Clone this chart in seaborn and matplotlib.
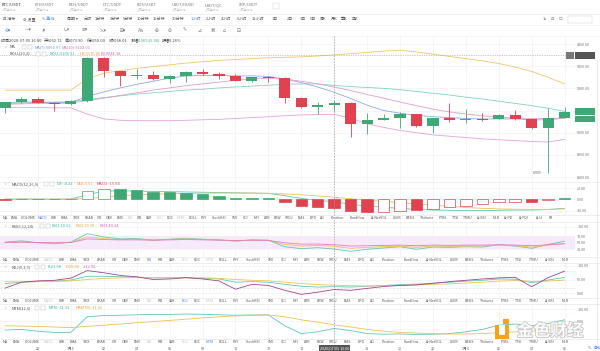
import matplotlib
matplotlib.use('Agg')
import numpy as np
import pandas as pd
import matplotlib.pyplot as plt
import matplotlib.transforms as mtransforms
import matplotlib.patheffects as pe
from matplotlib.patches import Rectangle
from matplotlib.lines import Line2D
import seaborn as sns

# ---- values: BTC/USDT, 1h candles ----
candle_idx = list(range(35))
opens = [9056, 9069, 9075, 9068, 9065, 9071, 9169, 9139, 9128, 9131, 9120, 9128, 9136, 9132, 9127, 9117, 9126, 9124,
         9078, 9058, 9062.72, 9068, 9019, 9029, 9034, 9042, 9014, 9033, 9028, 9031, 9030, 9040, 9030, 9011, 9033]
closes = [9069, 9075, 9068, 9065, 9071, 9169, 9139, 9128, 9131, 9120, 9128, 9136, 9132, 9127, 9117, 9125, 9124, 9078,
          9057, 9062, 9068.01, 9019, 9028, 9034, 9042, 9014, 9033, 9028, 9031, 9029, 9040, 9030, 9011, 9033, 9047]
highs = [9070, 9081, 9080, 9069, 9073, 9170, 9170, 9140, 9144, 9138, 9130, 9140, 9143, 9136, 9132, 9126, 9128, 9125,
         9080, 9069, 9073.90, 9069, 9045, 9042, 9047, 9043, 9034, 9066, 9053, 9045, 9042, 9051, 9031, 9055, 9058]
lows = [9045, 9068, 9067, 9050, 9063, 9070, 9125, 9106, 9121, 9118, 9113, 9114, 9129, 9120, 9116, 9114, 9115, 9068,
        9055, 9042, 9050.00, 8990, 8996, 9028, 9011, 9012, 9000, 9023, 9022, 9026, 9030, 9029, 9009, 8909, 9032]

ma7 = [9066, 9067, 9068, 9068, 9068, 9082, 9092, 9101, 9109, 9116, 9123, 9128, 9129, 9129, 9128, 9128, 9127, 9121,
       9113, 9103, 9091, 9077, 9062, 9050, 9044, 9039, 9036, 9034, 9032, 9031, 9031, 9031, 9029, 9029, 9033]
ma10 = [9064, 9065, 9066, 9066, 9067, 9072, 9078, 9084, 9090, 9096, 9101, 9106, 9110, 9114, 9118, 9121, 9123, 9121,
        9116, 9110, 9103, 9095, 9086, 9078, 9069, 9061, 9053, 9047, 9042, 9038, 9035, 9033, 9032, 9032, 9033]
boll_mid = [9068, 9069, 9069, 9069, 9070, 9075, 9079, 9083, 9087, 9090, 9093, 9096, 9098, 9101, 9103, 9105, 9107, 9109,
            9110, 9110, 9106.5, 9104, 9102, 9100, 9097, 9093, 9089, 9085, 9080, 9076, 9071, 9066, 9061, 9055, 9048]
boll_ub = [9096, 9096, 9096, 9096, 9096, 9122, 9134, 9140, 9145, 9149, 9153, 9157, 9160, 9163, 9165, 9167, 9169, 9170,
           9171, 9173, 9175.5, 9178, 9181, 9184, 9186, 9182, 9177, 9172, 9167, 9162, 9156, 9148, 9138, 9125, 9110]
boll_lb = [9057, 9057, 9057, 9056, 9056, 9042, 9031, 9028, 9027, 9027, 9027, 9028, 9029, 9030, 9032, 9034, 9036, 9038,
           9040, 9041, 9041.2, 9033, 9020, 9012, 9005, 9000, 8995, 8992, 8989, 8986, 8984, 8982, 8980, 8979, 8985]

macd_hist = [-1.2, 0.8, 0.8, 0.6, 0.7, 14.9, 18.9, 17.5, 17.0, 13.7, 12.6, 11.4, 8.6, 6.3, 2.9, 1.7, 1.7, -5.1,
             -12.6, -13.0, -15.64, -21.0, -22.9, -22.0, -20.0, -19.0, -17.0, -13.7, -11.0, -8.0, -5.0, -4.0, -5.0, -1.5, 2.0]
macd_hollow = [0, 1, 1, 1, 1, 1, 1, 0, 0, 0, 0, 0, 0, 0, 0, 0, 0, 0,
               0, 0, 0, 0, 0, 1, 1, 0, 1, 1, 1, 1, 1, 1, 0, 1, 0]
dif = [0.4, 0.5, 0.4, 0.3, 0.4, 8.0, 14.5, 15.0, 14.5, 14.0, 13.5, 13.0, 12.5, 12.0, 11.5, 11.0, 10.5, 6.5,
       1.5, -2.0, -4.22, -9.0, -12.0, -14.0, -16.0, -18.0, -19.0, -19.5, -20.0, -20.0, -19.5, -19.0, -19.0, -18.0, -16.0]
dea = [0.3, 0.3, 0.3, 0.3, 0.3, 1.5, 4.0, 6.2, 7.8, 9.0, 9.8, 10.4, 10.8, 11.0, 11.0, 11.0, 10.5, 9.5,
       8.0, 6.0, 3.61, 1.0, -1.5, -3.5, -6.0, -8.0, -10.5, -12.5, -14.5, -16.0, -17.0, -17.5, -18.0, -18.0, -17.0]

rsi1 = [52, 56, 50, 47, 52, 78, 68, 62, 63, 58, 61, 64, 61, 59, 55, 59, 58, 38,
        32, 35, 30.62, 24, 30, 34, 38, 30, 37, 36, 38, 37, 44, 40, 33, 45, 55]
rsi2 = [50, 52, 50, 49, 51, 68, 63, 60, 61, 58, 60, 62, 60, 59, 56, 58, 58, 45,
        40, 42, 39.39, 33, 36, 38, 40, 36, 40, 39, 40, 40, 43, 41, 37, 43, 48]
rsi3 = [51, 52, 51, 50, 51, 62, 60, 59, 59, 58, 59, 60, 59, 58, 57, 58, 57, 50,
        46, 46, 44.24, 40, 41, 42, 43, 41, 43, 42, 43, 43, 44, 43, 41, 44, 47]

kdj_k = [35, 40, 42, 44, 48, 62, 62, 60, 59, 56, 56, 57, 55, 52, 40, 42, 40, 32,
         25, 22, 23.68, 22, 25, 28, 31, 33, 36, 40, 44, 47, 52, 51, 38, 48, 58]
kdj_d = [42, 41, 42, 43, 45, 50, 54, 56, 57, 56, 56, 56, 56, 54, 50, 47, 45, 40,
         35, 31, 29.06, 27, 26, 27, 28, 30, 32, 34, 37, 40, 44, 46, 43, 44, 48]
kdj_j = [18, 40, 45, 47, 55, 83, 75, 65, 60, 50, 52, 57, 52, 45, 14, 32, 28, 10,
         -5, 3, 12.92, 10, 17, 24, 28, 30, 36, 42, 47, 52, 56, 58, 23, 57, 81]

mtm = [-75, -70, -85, -95, -95, 36, 45, 48, 52, 55, 55, 58, 56, 52, 48, 50, 50, -40,
       -105, -90, -61.92, -80, -105, -110, -108, -112, -110, -105, -90, -70, -35, -25, -40, -20, 10]
mamtm = [-40, -42, -45, -50, -55, -45, -35, -25, -15, -5, 5, 15, 25, 35, 42, 48, 50, 35,
         10, -10, -31.92, -50, -70, -85, -95, -100, -105, -108, -108, -105, -98, -90, -85, -75, -55]

time_ticks = [2, 4, 6, 8, 10, 12, 14, 16, 18, 20, 22, 24, 26, 28, 30, 32, 34]
# the 16:00 label sits under the crosshair time box, so it stays blank
time_labels = ['22', '7月5', '02', '04', '06', '08', '10', '12', '14', '', '18', '20', '22', '7月6', '02', '04', '06']
cross_idx = 20

tabs_top = ['BTC/USDT', 'ETH/USDT', 'BCH/USDT', 'LTC/USDT', 'EOS/USDT', 'USDT/HUSD', 'USDT/QC', 'XRP/USDT']
periods = ['分时', '1分钟', '3分钟', '5分钟', '10分钟', '15分钟', '30分钟', '1小时', '2小时', '4小时', '6小时',
           '12小时', '1日', '2日', '3日', '5日', '周K', '月K', '季K', '年K']
indicators = ['MA', 'EMA', 'VOLUME', 'MACD', 'DMI', 'DMA', 'TRIX', 'BRAR', 'VR', 'OBV', 'EMV', 'RSI', 'WR', 'SAR',
              'KDJ', 'ROC', 'MTM', 'BOLL', 'PSY', 'StochRSI', 'SMI', 'CCI', 'MFI', 'ATR', 'BBW', 'SKDJ', 'BIAS', 'DPO',
              'AO', 'Position', 'Fundflow', 'AI-NetVOL', 'LSUR', 'BASIS', 'TVolume', 'FTBS', 'TTSI', 'TTMU', 'AI-BSI',
              'MLR']
indicators_extra = ['AI-PD', 'AI-FDI', 'AI-LI', 'FR']

GREEN = '#3fa874'
RED = '#e0424f'
TEAL = '#5cc9b5'
YELLOW = '#f1c150'
PINK = '#e47cc6'
BLUE_TXT = '#3d7fe0'

sns.set_theme(style='white')
plt.rcParams['font.family'] = ['Noto Sans CJK SC', 'DejaVu Sans']
plt.rcParams['axes.unicode_minus'] = False

W, H = 600, 351
fig = plt.figure(figsize=(6, 3.51), dpi=100)
fig.patch.set_facecolor('white')


def rect(x0, y0, x1, y1):
    return [x0 / W, 1 - y1 / H, (x1 - x0) / W, (y1 - y0) / H]


def put(x, y, s, size=2.9, color='#555555', ha='left', **kw):
    return fig.text(x / W, 1 - y / H, s, fontsize=size, color=color, ha=ha, va='center', **kw)


def pbox(x0, y0, x1, y1, fc, ec='none', lw=0.4, z=5):
    fig.add_artist(Rectangle((x0 / W, 1 - y1 / H), (x1 - x0) / W, (y1 - y0) / H, transform=fig.transFigure,
                             facecolor=fc, edgecolor=ec, linewidth=lw, zorder=z))


def hline(y, x0=0, x1=600, color='#e8e8e8', lw=0.5):
    fig.add_artist(Line2D([x0 / W, x1 / W], [1 - y / H] * 2, transform=fig.transFigure, color=color, lw=lw))


def panel(y0, y1, ylim, ticks):
    ax = fig.add_axes(rect(0, y0, 575, y1))
    ax.set_xlim(-0.304, 34.63)
    ax.set_ylim(*ylim)
    ax.set_xticks(time_ticks)
    ax.set_xticklabels([])
    ax.set_yticks(ticks)
    ax.set_yticklabels([f'{t:.2f}' for t in ticks])
    ax.yaxis.tick_right()
    ax.tick_params(axis='both', length=0, labelsize=2.7, labelcolor='#777777', pad=1.6)
    ax.grid(True, color='#f1f1f1', lw=0.5)
    for s in ax.spines.values():
        s.set_visible(False)
    ax.set_facecolor('none')
    return ax


def line(ax, y, color, lw=0.6):
    sns.lineplot(x=candle_idx, y=y, ax=ax, color=color, lw=lw, legend=False)
    ax.set_xlabel('')
    ax.set_ylabel('')


def legend_row(y, x_name, name, icons_x, parts, chevron=True):
    if chevron:
        put(4, y, '∨', size=2.4, color='#999999')
    put(x_name, y, name, color='#555555')
    for ix in icons_x:
        pbox(ix, y - 2, ix + 4, y + 2, 'white', ec='#bbbbbb', lw=0.3)
    for px, s, c in parts:
        put(px, y, s, color=c)


def tab_row(y, items, x0, x1, active, greyed, char_w=2.0):
    lens = np.array([len(s) for s in items], dtype=float)
    gap = (x1 - x0 - char_w * lens.sum()) / (len(items) - 1)
    pos = x0
    for s, l in zip(items, lens):
        c = BLUE_TXT if s == active else ('#c2c2c2' if s in greyed else '#555555')
        put(pos + l * char_w / 2, y, s, size=2.5, color=c, ha='center')
        pos += l * char_w + gap


# ---- top tabs / toolbars ----
tab_x = [2, 35, 69, 103, 137, 172, 205, 239]
for i, (tx, name) in enumerate(zip(tab_x, tabs_top)):
    put(tx, 5, name, size=2.9, color='#333333' if i == 0 else '#777777')
    put(tx, 10, '火币全球站', size=2.1, color='#bbbbbb')
pbox(273, 3, 279, 9, 'white', ec='#cccccc', lw=0.3)
put(276, 6, '▾', size=2.2, color='#888888', ha='center', family='DejaVu Sans')
hline(13.5)

put(3, 19, '⊟ 指标', size=2.9, color='#555555')
put(23, 19, '⚙ 设置', size=2.9, color='#555555')
put(42, 19, '✎ 画线', size=2.9, color=BLUE_TXT)
put(67, 19, '周期 ▾', size=2.9, color='#555555')
per_x = [84, 95, 110, 123, 137, 153, 172, 191, 206, 221, 237, 252, 272, 287, 300, 310, 320, 331, 341, 352]
for px, s in zip(per_x, periods):
    put(px, 19, s, size=2.9, color=BLUE_TXT if s == '1小时' else '#555555')
put(543, 19, '1s', size=2.9, color='#666666')
put(551, 19, '⊡', size=3.0, color='#777777', family='DejaVu Sans')
put(559, 19, '☐', size=3.0, color='#777777', family='DejaVu Sans')
pbox(568, 16, 592, 22.5, 'white', ec='#cccccc', lw=0.3)
put(570, 19.2, '单窗口 ▾', size=2.7, color='#555555')
hline(24.5, color='#efefef')

tool_x = [5, 25, 43, 63, 82, 100, 120, 138, 155, 168, 183, 197, 210, 223, 237]
tool_s = ['✣▾', '—▾', '⁄▾', '∟▾', '≡▾', '⋋▾', '⊞▾', 'Aa', '⊕', '⊘', '✎', '⊿', '⌘', '⌂', '⊟']
for i, (tx, s) in enumerate(zip(tool_x, tool_s)):
    put(tx, 30, s, size=3.3, color=BLUE_TXT if i == 0 else '#777777', family='DejaVu Sans')
hline(35.5, color='#efefef')

# ---- main candle chart ----
ax = panel(37, 181, (8891.0, 9215.8), [8900, 8950, 9000, 9050, 9100, 9150, 9200])
df = pd.DataFrame({'i': candle_idx, 'open': opens, 'close': closes, 'high': highs, 'low': lows})
up = df['close'] >= df['open']
cols = np.where(up, GREEN, RED)
ax.vlines(df['i'], df['low'], df['high'], colors=cols, lw=0.6, zorder=3)
body = (df['close'] - df['open']).abs().clip(lower=1.5)
ax.bar(df['i'], body, bottom=np.minimum(df['open'], df['close']), width=0.68, color=cols, linewidth=0, zorder=4)
line(ax, boll_ub, '#f2c46c')
line(ax, boll_mid, '#80d3c3')
line(ax, boll_lb, '#e6a2da')
line(ax, ma7, '#8fa8e8')
line(ax, ma10, '#e79ccb')
ax.axhline(9175.23, color='#999999', lw=0.5, ls=(0, (1, 1.5)))
ax.annotate('8909 ‐', xy=(33, lows[33]), xytext=(-2, 0), textcoords='offset points',
            ha='right', va='center', fontsize=2.6, color='#666666')

put(1, 40.7, '时间2020-07-05 16:00', color='#444444')
put(43.5, 40.7, '开9062.72', color='#444444')
put(65, 40.7, '高9073.90', color='#444444')
put(87, 40.7, '低9050.00', color='#444444')
put(109, 40.7, '收9068.01', color='#444444')
put(131, 40.7, '涨幅', color='#444444')
put(138, 40.7, '0.06%(5.30)', color=GREEN)
put(162, 40.7, '振幅0.26%', color='#444444')
legend_row(47.3, 10, 'MA', [22, 28], [(35, 'MA(7):9090.97', '#6f8fe6'), (62, 'MA(10):9102.01', '#dd6fb8')])
legend_row(53.6, 10, 'BOLL(20,2)', [36, 42], [(50, 'BOLL:9106.51', '#36bba4'), (80, 'UB:9175.46', '#e9a53a'),
                                            (101, 'LB:9041.18', '#d862b8')], chevron=False)

# price boxes on the right edge
pbox(566, 51.5, 573.5, 58.5, '#777777')
put(569.7, 55, '+', size=3.2, color='white', ha='center')
pbox(575, 51.5, 595, 58.5, '#555555')
put(585, 55, '9175.23', size=2.7, color='white', ha='center')
pbox(575, 107.5, 595, 114.5, GREEN)
put(585, 111, '9048.19', size=2.7, color='white', ha='center')
pbox(575, 116, 595, 122.5, GREEN)
put(585, 119.3, '51:48', size=2.7, color='white', ha='center')
hline(181.5)

# ---- MACD ----
ax = panel(181, 215, (-27.8, 32.4), [-20, 0, 20])
hcol = np.where(np.array(macd_hist) >= 0, GREEN, RED)
face = ['white' if h else c for h, c in zip(macd_hollow, hcol)]
ax.bar(candle_idx, macd_hist, width=0.7, color=face, edgecolor=hcol, linewidth=0.5, zorder=3)
line(ax, dif, TEAL)
line(ax, dea, YELLOW)
legend_row(184, 12, 'MACD(12,26,9)', [44, 50], [(57, 'DIF:-4.22', '#36bba4'), (77, 'DEA:3.61', '#e9a53a'),
                                               (97, 'MACD:-15.64', RED)])
hline(214.5)
tab_row(218, indicators + indicators_extra, 3, 553, 'MACD', ['RSI', 'KDJ', 'MTM'])
hline(221.5)

# ---- RSI ----
ax = panel(221, 257, (6.4, 116.9), [30, 50, 70, 100])
ax.axhspan(30, 70, color='#f5e9fb', zorder=0, lw=0)
line(ax, rsi1, TEAL)
line(ax, rsi2, YELLOW)
line(ax, rsi3, PINK)
legend_row(226, 12, 'RSI(6,12,24)', [40, 46], [(52, 'RSI1:30.62', '#36bba4'), (76, 'RSI2:39.39', '#e9a53a'),
                                              (100, 'RSI3:44.24', '#d862b8')])
hline(256.5)
tab_row(260, indicators, 3, 568, 'RSI', ['MACD', 'KDJ', 'MTM'])
hline(263)

# ---- KDJ ----
ax = panel(263, 298, (-18.5, 111.1), [0, 50, 100])
ax.axhline(80, color='#dddddd', lw=0.5, ls=(0, (3, 2)))
ax.axhline(20, color='#dddddd', lw=0.5, ls=(0, (3, 2)))
line(ax, kdj_k, TEAL)
line(ax, kdj_d, YELLOW)
line(ax, kdj_j, '#a3458f')
legend_row(267, 12, 'KDJ(9,3,3)', [35, 41], [(48, 'K:23.68', '#36bba4'), (66, 'D:29.06', '#e9a53a'),
                                            (83, 'J:12.92', '#d862b8')])
hline(297.5)
tab_row(301, indicators, 3, 568, 'KDJ', ['MACD', 'RSI', 'MTM'])
hline(304)

# ---- MTM ----
ax_mtm = panel(304, 339, (-150, 141.7), [0, 100])
line(ax_mtm, mtm, TEAL)
line(ax_mtm, mamtm, YELLOW)
legend_row(308, 12, 'MTM(12,6)', [35, 41], [(49, 'MTM:-61.92', '#36bba4'), (76, 'MAMTM:-31.92', '#e9a53a')])
hline(338.5)
tab_row(342, indicators, 3, 568, 'MTM', ['MACD', 'RSI', 'KDJ'])

ax_mtm.set_xticklabels(time_labels)
ax_mtm.tick_params(axis='x', labelsize=2.7, labelcolor='#666666', pad=5.5)

# crosshair through all panels + time box
blend = mtransforms.blended_transform_factory(ax_mtm.transData, fig.transFigure)
fig.add_artist(Line2D([cross_idx, cross_idx], [1 - 36 / H, 1 - 345 / H], transform=blend,
                      color='#999999', lw=0.5, ls=(0, (2, 2)), zorder=6))
fig.text(cross_idx, 1 - 348 / H, '2020/07/05 16:00', transform=blend, fontsize=2.7, color='white',
         ha='center', va='center', zorder=8,
         bbox=dict(boxstyle='square,pad=0.25', facecolor='#555555', edgecolor='none'))
put(588, 348, '%', size=2.7, color='#666666')
put(593, 348, '自动', size=2.5, color=BLUE_TXT)

# right scrollbar edge
fig.add_artist(Line2D([597 / W, 597 / W], [1 - 60 / H, 1 - 345 / H], transform=fig.transFigure,
                      color='#e6e6e6', lw=0.6))

# watermark
pbox(495, 325, 509, 339, '#f5a31d', z=9)
pbox(499, 325, 505, 335, 'white', z=9)
pbox(503, 318.5, 509, 323.5, '#f5a31d', z=9)
fig.text(550 / W, 1 - 331 / H, '金色财经', fontsize=12, color='white', ha='center', va='center',
         fontweight='bold', zorder=9, alpha=0.9,
         path_effects=[pe.withStroke(linewidth=1.3, foreground='#c4c4c4')])

fig.savefig('out.png', dpi=100, facecolor='white')
